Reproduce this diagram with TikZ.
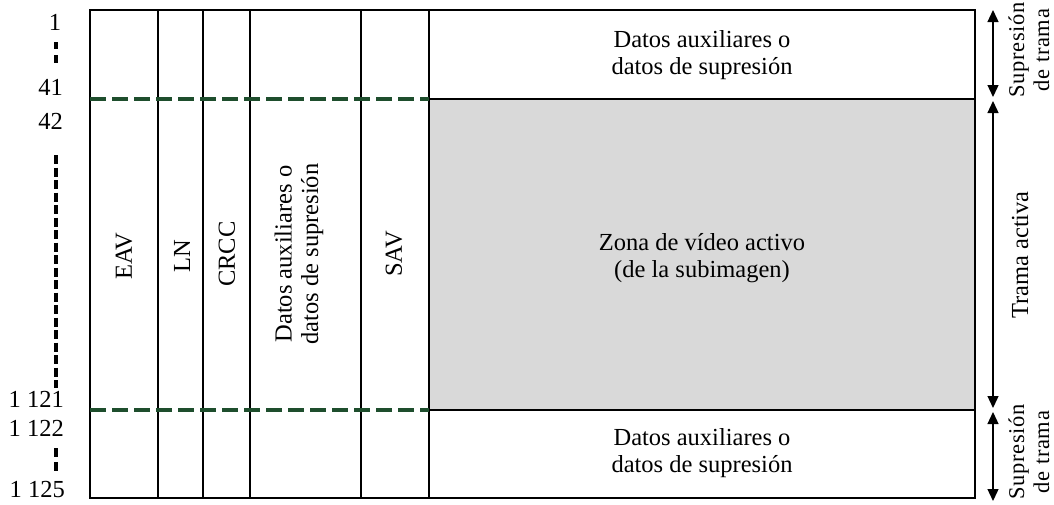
\documentclass[tikz,border=0pt]{standalone}
\usepackage{fontspec}
\setmainfont{Liberation Serif}
\usetikzlibrary{arrows.meta}
\definecolor{dkgreen}{RGB}{30,78,45}
\definecolor{zonegray}{RGB}{217,217,217}
\begin{document}
\begin{tikzpicture}[x=1pt,y=-1pt,
  txt/.style={font=\fontsize{24.5}{26.5}\selectfont, align=center, inner sep=0pt},
  vtxt/.style={txt, rotate=90},
  sidetxt/.style={vtxt, font=\fontsize{22.5}{25}\selectfont\addfontfeature{LetterSpace=3}},
  frame/.style={line width=1.3pt, black},
  gdash/.style={dkgreen, line width=3.5pt, dash pattern=on 16pt off 6pt},
  kdash/.style={black, line width=4pt},
  dimarrow/.style={line width=1.3pt, {Triangle[length=12pt,width=11pt]}-{Triangle[length=12pt,width=11pt]}}
]
\useasboundingbox (0,0) rectangle (1054,504);
% grey active zone
\fill[zonegray] (429,99) rectangle (975,410);
% frame and columns
\draw[frame] (90,10) rectangle (975,498);
\foreach \cx in {158,203,250,361,429} \draw[frame] (\cx,10) -- (\cx,498);
\draw[frame] (429,99) -- (975,99);
\draw[frame] (429,410) -- (975,410);
% green dashed separators
\draw[gdash] (90,99) -- (429,99);
\draw[gdash] (90,410) -- (429,410);

% coordinates for dimension arrows
\coordinate (a1) at (993,10);
\coordinate (a2) at (993,97);
\coordinate (b1) at (993,101);
\coordinate (b2) at (993,408);
\coordinate (c1) at (993,412);
\coordinate (c2) at (993,501);
\draw[dimarrow] (a1) -- (a2);
\draw[dimarrow] (b1) -- (b2);
\draw[dimarrow] (c1) -- (c2);

% right labels
\node[sidetxt] (sup1) at (1029,50) {Supresión\\de trama};
\node[vtxt] (ta) at (1020,255) {Trama activa};
\node[sidetxt] (sup2) at (1029,452) {Supresión\\de trama};

% left line numbers
\node[txt] (n1) at (55,22) {1};
\node[txt, anchor=east] (n41) at (63,87) {41};
\node[txt, anchor=east] (n42) at (63,121) {42};
\node[txt, anchor=east] (n1121) at (64,399) {1 121};
\node[txt, anchor=east] (n1122) at (64,428) {1 122};
\node[txt, anchor=east] (n1125) at (65,489) {1 125};

% left vertical dashes
\draw[kdash] (56,42) -- (56,49);
\draw[kdash] (56,55) -- (56,63);
\draw[kdash, dash pattern=on 9pt off 3.5pt] (56,155) -- (56,388);
\draw[kdash] (56,448) -- (56,457);
\draw[kdash] (56,462) -- (56,471);

% column labels
\node[vtxt] (eav) at (124,256) {EAV};
\node[vtxt] (ln) at (182,256) {LN};
\node[vtxt] (crcc) at (227,254) {CRCC};
\node[vtxt] (aux) at (299,254) {Datos auxiliares o\\datos de supresión};
\node[vtxt] (sav) at (394,254) {SAV};

% horizontal texts
\node[txt] (top) at (702,55) {Datos auxiliares o\\datos de supresión};
\node[txt] (zona) at (702,258) {Zona de vídeo activo\\(de la subimagen)};
\node[txt] (bot) at (702,453) {Datos auxiliares o\\datos de supresión};
\end{tikzpicture}
\end{document}
